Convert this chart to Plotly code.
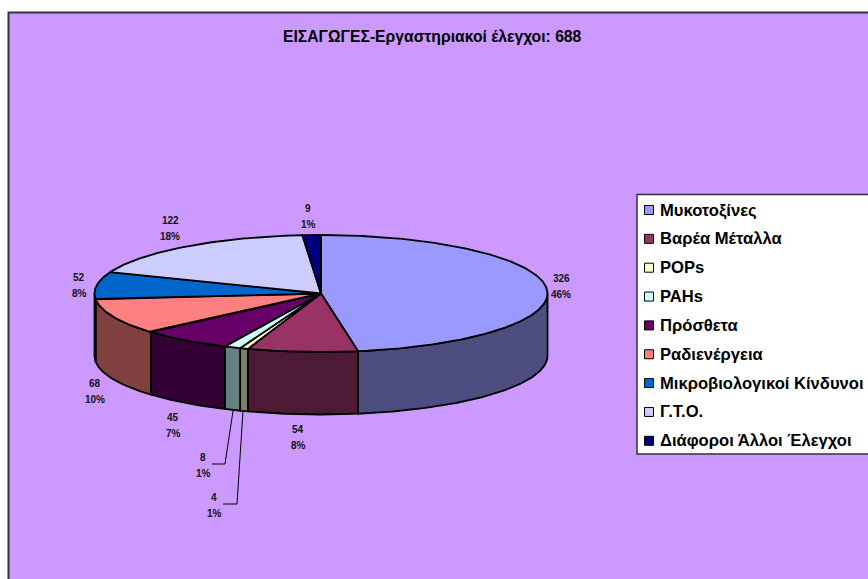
import numpy as np
import plotly.graph_objects as go

categories = ["Μυκοτοξίνες", "Βαρέα Μέταλλα", "POPs", "PAHs", "Πρόσθετα",
              "Ραδιενέργεια", "Μικροβιολογικοί Κίνδυνοι", "Γ.Τ.Ο.", "Διάφοροι Άλλοι Έλεγχοι"]
values = [326, 54, 4, 8, 45, 68, 52, 122, 9]
percents = ["46%", "8%", "1%", "1%", "7%", "10%", "8%", "18%", "1%"]
top_colors = ["#9999FF", "#993366", "#FFFFCC", "#CCFFFF", "#660066",
              "#FF8080", "#0066CC", "#CCCCFF", "#000080"]
side_colors = ["#4D4D80", "#4D1A33", "#808066", "#668080", "#330033",
               "#804040", "#003366", "#666680", "#000040"]
label_x = [561, 298, 214, 203, 173, 95, 79, 170, 308]
label_y = [278, 429, 497, 457, 417, 383, 277, 220, 208]
title = "ΕΙΣΑΓΩΓΕΣ-Εργαστηριακοί έλεγχοι: 688"

W, H = 868, 579
CX, CY, RX, RY, DEPTH = 321, 293.5, 226.5, 58.5, 62.5
FONT = "Liberation Sans"
BORDER = "#333333"

fig = go.Figure()


def arc(a, b, dy=0.0):
    t = np.radians(np.linspace(a, b, max(int(abs(b - a) * 2), 2) + 1))
    return CX + RX * np.sin(t), CY + dy - RY * np.cos(t)


def poly(xs, ys, fill):
    fig.add_trace(go.Scatter(x=list(xs), y=list(ys), mode="lines", fill="toself",
                             fillcolor=fill, line=dict(color="black", width=1.8),
                             hoverinfo="skip", showlegend=False))


edges = np.cumsum([0] + values) / sum(values) * 360

# visible side walls (front half of the cylinder)
for a, b, c in zip(edges[:-1], edges[1:], side_colors):
    lo, hi = max(a, 90), min(b, 270)
    if lo >= hi:
        continue
    x1, y1 = arc(lo, hi)
    x2, y2 = arc(hi, lo, DEPTH)
    poly(np.r_[x1, x2, x1[0]], np.r_[y1, y2, y1[0]], c)

# top faces
for a, b, c in zip(edges[:-1], edges[1:], top_colors):
    x, y = arc(a, b)
    poly(np.r_[CX, x, CX], np.r_[CY, y, CY], c)

# leader lines for the two thin slices
for xs, ys in (([212, 225, 233], [464, 464, 411]), ([223, 237, 243], [504, 504, 411])):
    fig.add_trace(go.Scatter(x=xs, y=ys, mode="lines", line=dict(color="black", width=1),
                             hoverinfo="skip", showlegend=False))

# data labels: value and percentage on two lines
for v, p, x, y in zip(values, percents, label_x, label_y):
    for txt, yy in ((v, y), (p, y + 16.5)):
        fig.add_annotation(x=x, y=yy, text=f"<b>{txt}</b>", showarrow=False,
                           font=dict(family=FONT, size=10, color="#111111"),
                           xanchor="center", yanchor="middle")

# legend column
leg_y = [210 + i * 28.85 for i in range(len(categories))]
fig.add_trace(go.Scatter(x=[649] * len(categories), y=leg_y, mode="markers",
                         marker=dict(symbol="square", size=9, color=top_colors,
                                     line=dict(color="black", width=1)),
                         hoverinfo="skip", showlegend=False))
for name, y in zip(categories, leg_y):
    fig.add_annotation(x=660, y=y, text=f"<b>{name}</b>", showarrow=False,
                       font=dict(family=FONT, size=16.6, color="black"),
                       xanchor="left", yanchor="middle", xshift=-2)

fig.add_annotation(x=432.5, y=36, text=f"<b>{title}</b>", showarrow=False,
                   font=dict(family=FONT, size=15.7, color="black"),
                   xanchor="center", yanchor="middle")

fig.update_layout(
    width=W, height=H, margin=dict(l=0, r=0, t=0, b=0),
    paper_bgcolor="white", plot_bgcolor="white", showlegend=False,
    xaxis=dict(range=[0, W], visible=False, fixedrange=True),
    yaxis=dict(range=[H, 0], visible=False, fixedrange=True),
    shapes=[
        dict(type="rect", x0=8.5, y0=12.5, x1=W + 5, y1=H + 5, layer="below",
             fillcolor="#CC99FF", line=dict(color=BORDER, width=2)),
        dict(type="rect", x0=637, y0=194.5, x1=W + 5, y1=454, layer="below",
             fillcolor="white", line=dict(color=BORDER, width=1.5)),
    ],
)
fig.write_html("out.html", config=dict(displayModeBar=False),
               post_script="document.body.style.margin='0';document.documentElement.style.overflow='hidden';")
